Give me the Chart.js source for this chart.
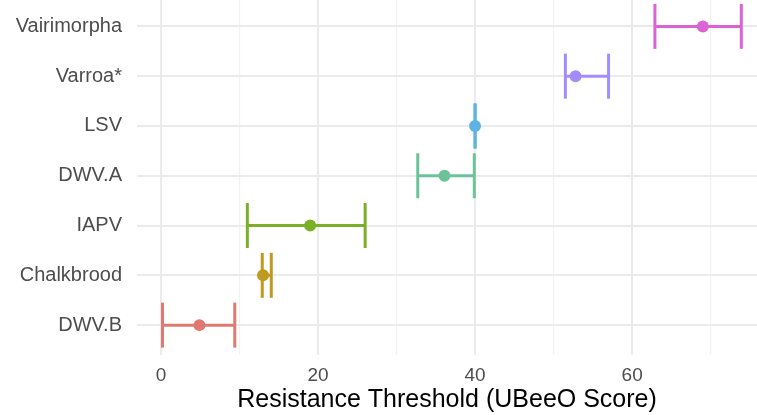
<!DOCTYPE html>
<html>
<head>
<meta charset="utf-8">
<script src="https://cdn.jsdelivr.net/npm/chart.js@4.4.1/dist/chart.umd.min.js"></script>
<style>
  html, body { margin: 0; padding: 0; background: #fff; }
  #wrap { width: 757px; height: 415px; }
</style>
</head>
<body>
<div id="wrap"><canvas id="chart"></canvas></div>
<script>
  // bottom to top, as positions 1..7 on the y axis
  const categories = ['DWV.B', 'Chalkbrood', 'IAPV', 'DWV.A', 'LSV', 'Varroa*', 'Vairimorpha'];
  const lower = [0.2, 12.9, 11.0, 32.7, 40.0, 51.5, 62.9];
  const estimate = [4.9, 13.0, 19.0, 36.1, 40.0, 52.8, 69.0];
  const upper = [9.4, 14.05, 26.0, 39.9, 40.0, 57.0, 73.9];
  const xTicks = [0, 20, 40, 60];
  const palette = ['#E07A70', '#BE9A20', '#7AAF28', '#6CC39A', '#5EB3E6', '#A38DFB', '#DC63D6'];

  const fontFamily = '"Liberation Sans", Arial, Helvetica, sans-serif';

  const datasets = [];

  // horizontal segments
  categories.forEach(function (name, i) {
    datasets.push({
      type: 'line',
      data: [{ x: lower[i], y: i + 1 }, { x: upper[i], y: i + 1 }],
      borderColor: palette[i],
      borderWidth: 3,
      pointRadius: 0,
      order: 2
    });
  });

  // caps
  const capData = [];
  const capColors = [];
  categories.forEach(function (name, i) {
    capData.push({ x: lower[i], y: i + 1 });
    capData.push({ x: upper[i], y: i + 1 });
    capColors.push(palette[i], palette[i]);
  });
  datasets.push({
    type: 'scatter',
    data: capData,
    pointStyle: 'line',
    rotation: 90,
    pointRadius: 22.5,
    pointBorderWidth: 3,
    pointBorderColor: capColors,
    pointBackgroundColor: capColors,
    clip: false,
    order: 1
  });

  // point estimates
  datasets.push({
    type: 'scatter',
    data: categories.map(function (name, i) { return { x: estimate[i], y: i + 1 }; }),
    pointRadius: 6,
    pointBorderWidth: 0,
    pointBackgroundColor: palette,
    order: 0
  });

  new Chart(document.getElementById('chart'), {
    type: 'scatter',
    data: { datasets: datasets },
    options: {
      responsive: true,
      maintainAspectRatio: false,
      animation: false,
      layout: { padding: 0, autoPadding: false },
      plugins: { legend: { display: false }, tooltip: { enabled: false } },
      scales: {
        x: {
          type: 'linear',
          min: -3.05,
          max: 75.9,
          afterBuildTicks: function (scale) {
            const t = [];
            for (let v = 0; v <= 70; v += 10) t.push({ value: v });
            scale.ticks = t;
          },
          afterFit: function (scale) {
            scale.height = 60;
            scale.paddingLeft = 0;
            scale.paddingRight = 0;
          },
          border: { display: false },
          grid: {
            drawTicks: false,
            color: function (ctx) { return xTicks.indexOf(ctx.tick.value) >= 0 ? '#EBEBEB' : '#F2F2F2'; },
            lineWidth: function (ctx) { return xTicks.indexOf(ctx.tick.value) >= 0 ? 2 : 1.2; }
          },
          ticks: {
            autoSkip: false,
            maxRotation: 0,
            padding: 9,
            color: '#4D4D4D',
            font: { family: fontFamily, size: 19 },
            callback: function (v) { return xTicks.indexOf(v) >= 0 ? String(v) : ''; }
          },
          title: {
            display: true,
            text: 'Resistance Threshold (UBeeO Score)',
            color: '#000',
            padding: { top: 0, bottom: 0 },
            font: { family: fontFamily, size: 25 }
          }
        },
        y: {
          type: 'linear',
          min: 0.4,
          max: 7.53,
          afterBuildTicks: function (scale) {
            scale.ticks = categories.map(function (n, i) { return { value: i + 1 }; });
          },
          afterFit: function (scale) {
            scale.width = 137;
            scale.paddingTop = 0;
            scale.paddingBottom = 0;
          },
          border: { display: false },
          grid: { drawTicks: false, color: '#EBEBEB', lineWidth: 2 },
          ticks: {
            autoSkip: false,
            padding: 15,
            color: '#4D4D4D',
            font: { family: fontFamily, size: 20 },
            callback: function (v) { return categories[v - 1] || ''; }
          }
        }
      }
    }
  });
</script>
</body>
</html>
